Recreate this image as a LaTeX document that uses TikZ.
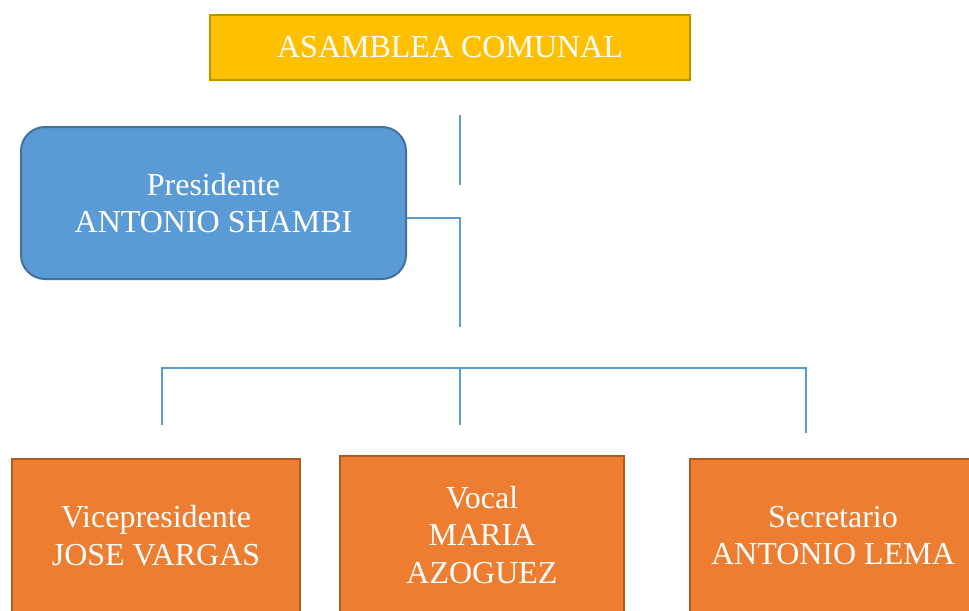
\documentclass[tikz,border=0pt]{standalone}
\usepackage{fontspec}
\setmainfont{Liberation Serif}
\usepackage{xcolor}
\definecolor{gold}{HTML}{FFC000}
\definecolor{goldLine}{HTML}{BF9000}
\definecolor{blueFill}{HTML}{5B9BD5}
\definecolor{blueLine}{HTML}{41719C}
\definecolor{orangeFill}{HTML}{ED7D31}
\definecolor{orangeLine}{HTML}{AE5A21}
\usetikzlibrary{positioning}

\begin{document}
\begin{tikzpicture}[x=0.75pt, y=-0.75pt,
    box/.style={inner sep=0pt, align=center, text=white, font=\fontsize{24}{28}\selectfont},
    topbox/.style={box, draw=goldLine, fill=gold, line width=2.2pt, minimum width=360pt, minimum height=48.75pt},
    presbox/.style={box, draw=blueLine, fill=blueFill, line width=1.5pt, rounded corners=18pt, minimum width=288.75pt, minimum height=114pt},
    memberbox/.style={box, draw=orangeLine, fill=orangeFill, line width=1.5pt, minimum height=115pt},
    link/.style={draw=blueFill, line width=0.8pt}]
    \useasboundingbox (0,0) rectangle (969,610);

    % Assembly
    \node[topbox] (asamblea) at (450,47.5) {ASAMBLEA COMUNAL};

    % President
    \node[presbox] (pres) at (213.5,203) {Presidente\\ANTONIO SHAMBI};

    % Members (the right one runs off the page)
    \node[memberbox, minimum width=216pt] (vice) at (156,535.5) {Vicepresidente\\JOSE VARGAS};
    \node[memberbox, minimum width=213pt, minimum height=118.5pt] (vocal) at (482,535) {Vocal\\MARIA\\AZOGUEZ};
    \node[memberbox, minimum width=240pt] (secre) at (850,535.5) {Secretario\hspace*{25.5pt}\\ANTONIO LEMA\hspace*{25.5pt}};

    % Connector points
    \coordinate (t1) at (460,115);
    \coordinate (t2) at (460,185);
    \coordinate (j1) at (460,218);
    \coordinate (j2) at (460,327);
    \coordinate (bl) at (162,368);
    \coordinate (bm) at (460,368);
    \coordinate (br) at (806,368);
    \coordinate (e1) at (162,425);
    \coordinate (e2) at (460,425);
    \coordinate (e3) at (806,433);

    % Connectors
    \draw[link] (t1) -- (t2);
    \draw[link] (pres.east |- j1) -- (j1) -- (j2);
    \draw[link] (e1) -- (bl) -- (br) -- (e3);
    \draw[link] (bm) -- (e2);
\end{tikzpicture}
\end{document}
